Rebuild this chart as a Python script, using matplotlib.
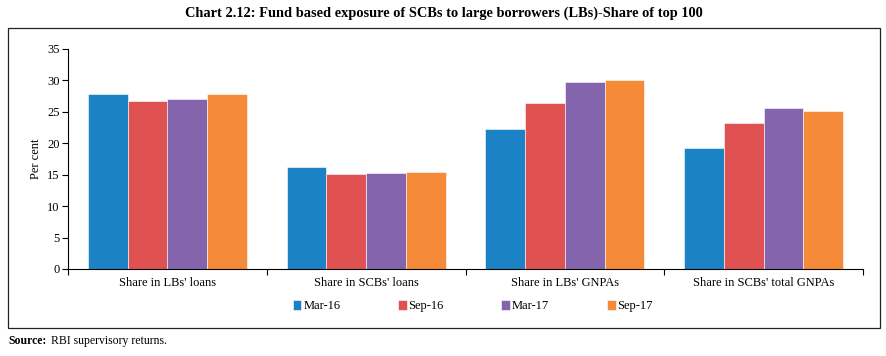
import matplotlib
matplotlib.use('Agg')
import matplotlib.pyplot as plt
from matplotlib.patches import Rectangle
import numpy as np

plt.rcParams['font.family'] = ['Liberation Serif', 'DejaVu Serif']

categories = ["Share in LBs' loans", "Share in SCBs' loans", "Share in LBs' GNPAs", "Share in SCBs' total GNPAs"]
series_names = ['Mar-16', 'Sep-16', 'Mar-17', 'Sep-17']
mar16 = [27.9, 16.2, 22.3, 19.3]
sep16 = [26.8, 15.1, 26.4, 23.3]
mar17 = [27.1, 15.2, 29.7, 25.6]
sep17 = [27.8, 15.5, 30.0, 25.1]
colors = ['#1c82c6', '#e05252', '#8464ad', '#f58b38']

fig = plt.figure(figsize=(8.87, 3.56), dpi=100)
ax = fig.add_axes([0.0767, 0.2444, 0.8963, 0.618])

x = np.arange(len(categories))
w = 0.2
all_series = [mar16, sep16, mar17, sep17]
for i, vals in enumerate(all_series):
    ax.bar(x + (i - 1.5) * w, vals, w, color=colors[i], edgecolor='white',
           linewidth=0.4, label=series_names[i])

ax.set_xlim(-0.5, 3.5)
ax.set_ylim(0, 35)
ax.set_yticks(range(0, 36, 5))
ax.set_xticks(np.arange(-0.5, 4, 1))
ax.set_xticklabels([])
ax.set_xticks(x, minor=True)
ax.set_xticklabels(categories, minor=True, fontsize=9)
ax.tick_params(axis='x', which='minor', length=0, pad=6)
ax.tick_params(axis='x', which='major', length=4, width=0.8)
ax.tick_params(axis='y', labelsize=9, length=4, width=0.8, pad=2)
for s in ['top', 'right']:
    ax.spines[s].set_visible(False)
ax.spines['left'].set_linewidth(0.8)
ax.spines['bottom'].set_linewidth(0.8)
ax.set_ylabel('Per cent', fontsize=9, labelpad=4)

fig.legend(loc='center', bbox_to_anchor=(0.533, 0.14), ncol=4, frameon=False,
           fontsize=9, handlelength=0.7, handleheight=0.9, handletextpad=0.15,
           columnspacing=4.6)

fig.patches.append(Rectangle((0.009, 0.079), 0.983, 0.843, transform=fig.transFigure,
                             fill=False, edgecolor='#222222', linewidth=0.9))

fig.text(0.5, 0.963, 'Chart 2.12: Fund based exposure of SCBs to large borrowers (LBs)-Share of top 100',
         ha='center', va='center', fontsize=10.4, fontweight='bold')
fig.text(0.009, 0.042, 'Source:', ha='left', va='center', fontsize=8.5, fontweight='bold')
fig.text(0.058, 0.042, 'RBI supervisory returns.', ha='left', va='center', fontsize=8.5)

fig.savefig('out.png', dpi=100)
